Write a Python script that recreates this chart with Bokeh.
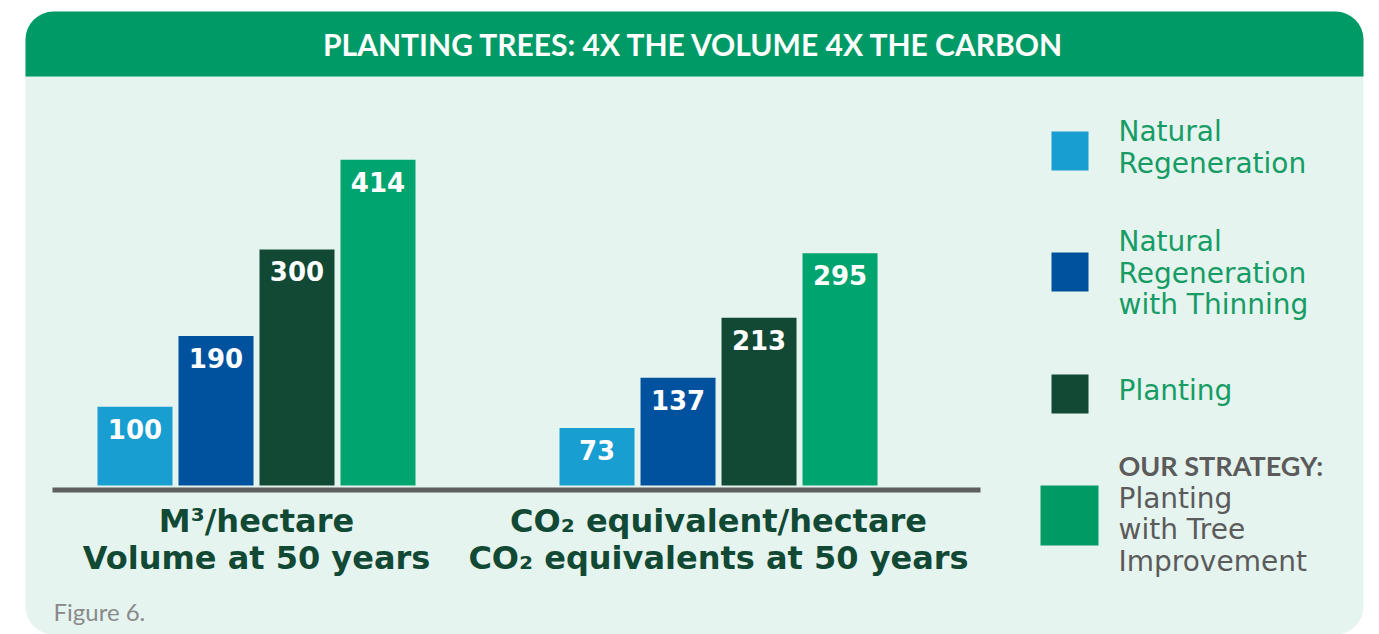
from bokeh.plotting import figure
from bokeh.models import ColumnDataSource, FactorRange, Range1d
from bokeh.transform import dodge
from bokeh.core.properties import value
from bokeh.embed import file_html
from bokeh.resources import INLINE

# ---------------- data ----------------
title = "PLANTING TREES: 4X THE VOLUME 4X THE CARBON"
groups = ["volume", "co2"]
group_line1 = ["M³/hectare", "CO₂ equivalent/hectare"]
group_line2 = ["Volume at 50 years", "CO₂ equivalents at 50 years"]
series = ["nat", "nat_thin", "plant", "plant_ti"]
volume_values = [100, 190, 300, 414]
co2_values = [73, 137, 213, 295]
legend_lines = [
    ["Natural", "Regeneration"],
    ["Natural", "Regeneration", "with Thinning"],
    ["Planting"],
    ["Planting", "with Tree", "Improvement"],
]
legend_heading = "OUR STRATEGY:"
footnote = "Figure 6."

# ---------------- style / layout ----------------
colors = ["#189ED0", "#00529F", "#114935", "#00A46E"]
legend_colors = ["#189ED0", "#00529F", "#114935", "#009B64"]
CARD_BG = "#E5F4EF"
HEADER = "#009A66"
DARK = "#114935"
LEG_GREEN = "#169C64"
GRAY = "#5B5B5B"

W, H = 1379, 634
M = 0                      # observed page offset of the canvas
PXF = 81.0                 # pixels per factor
GROUP_PAD = 1.704
BLOCK = 8 + GROUP_PAD
RPAD = (W / PXF - BLOCK) / 2
BLOCK_LEFT = 94.0          # page x of bar block start
SHIFT = ((BLOCK_LEFT + BLOCK * PXF / 2) - (M + W / 2)) / PXF
BASE = 485.0               # page y of value 0
SCALE = 0.787              # px per unit


def X(px):
    """page x -> synthetic categorical coordinate"""
    return (px - M) / PXF - RPAD


def Y(py):
    """page y -> decoration range coordinate"""
    return (M + H) - py


factors = [(g, s) for g in groups for s in series]
xr = FactorRange(factors=factors, factor_padding=0.0, group_padding=GROUP_PAD,
                 range_padding=RPAD, range_padding_units="absolute")
yr = Range1d(start=-(M + H - BASE) / SCALE, end=(BASE - M) / SCALE)

p = figure(width=W, height=H, x_range=xr, y_range=yr,
           output_backend="svg", toolbar_location=None,
           x_axis_location=None, y_axis_location=None,
           min_border=0, outline_line_color=None,
           background_fill_color="white", border_fill_color="white")
p.grid.visible = False
p.extra_y_ranges = {"px": Range1d(0, H)}
PX = dict(y_range_name="px")

# card + header
p.quad(left=X(25), right=X(1363), top=Y(11), bottom=Y(634), border_radius=28,
       fill_color=CARD_BG, line_color=None, **PX)
p.quad(left=X(25), right=X(1363), top=Y(11), bottom=Y(76), border_radius=(28, 28, 0, 0),
       fill_color=HEADER, line_color=None, **PX)
p.text(x=X(694), y=Y(43), text=[title], text_align="center", text_baseline="alphabetic",
       text_font=value("Lato"), text_font_style="bold", text_font_size="30px",
       text_color="white", **PX)

# baseline
p.segment(x0=X(52), x1=X(980), y0=Y(489.5), y1=Y(489.5), line_width=5,
          line_color="#5F5F5F", line_cap="butt", **PX)

# bars
vals = volume_values + co2_values
src = ColumnDataSource(dict(x=factors, top=vals, color=colors * len(groups),
                            label=[str(v) for v in vals]))
xd = dodge("x", SHIFT, range=xr)
p.vbar(x=xd, top="top", bottom=0, width=75 / PXF, fill_color="color",
       line_color=None, source=src)
p.text(x=xd, y="top", text="label", y_offset=22, text_align="center",
       text_baseline="alphabetic", text_font=value("DejaVu Sans"),
       text_font_style="bold", text_font_size="26px", text_color="white", source=src)

# group labels
gsrc = ColumnDataSource(dict(x=groups, l1=group_line1, l2=group_line2))
for col, off in (("l1", 35), ("l2", 72)):
    p.text(x=dodge("x", SHIFT, range=xr), y=0, text=col, y_offset=off,
           text_align="center", text_baseline="alphabetic",
           text_font=value("DejaVu Sans"), text_font_style="bold",
           text_font_size="32px", text_color=DARK, source=gsrc)

# legend
sq = [(1051, 1088, 131, 170), (1051, 1088, 252, 291), (1051, 1088, 374, 413), (1040, 1098, 485, 545)]
first_base = [131.0, 241.0, 389.5, 497.5]
LH = 31.6
for i, lines in enumerate(legend_lines):
    l, r, t, b = sq[i]
    p.quad(left=X(l), right=X(r), top=Y(t), bottom=Y(b), fill_color=legend_colors[i],
           line_color=None, **PX)
    tc = GRAY if i == 3 else LEG_GREEN
    ys = [Y(first_base[i] + k * LH) for k in range(len(lines))]
    p.text(x=[X(1118)] * len(lines), y=ys, text=lines, text_align="left",
           text_baseline="alphabetic", text_font=value("DejaVu Sans"),
           text_font_size="28px", text_color=tc, **PX)
p.text(x=X(1118), y=Y(465), text=[legend_heading], text_align="left",
       text_baseline="alphabetic", text_font=value("Lato"), text_font_style="bold",
       text_font_size="27px", text_color=GRAY, **PX)

# footnote
p.text(x=X(53), y=Y(611), text=[footnote], text_align="left", text_baseline="alphabetic",
       text_font=value("Lato"), text_font_size="24px", text_color="#8A8A8A", **PX)

open("out.html", "w").write(file_html(p, INLINE))
